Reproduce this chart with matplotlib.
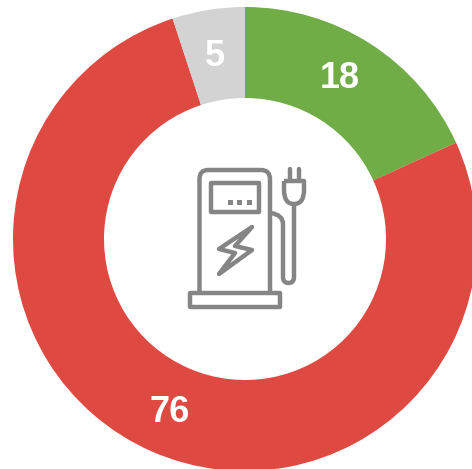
import matplotlib
matplotlib.use('Agg')
import matplotlib.pyplot as plt
from matplotlib.patches import Polygon, Rectangle, PathPatch
from matplotlib.path import Path

plt.rcParams['font.family'] = ['Liberation Sans', 'DejaVu Sans']

W, H = 472, 469  # size in pixels
categories = ['green', 'red', 'grey']
values = [18, 76, 5]
labels = ['18', '76', '5']
colors = ['#70AD47', '#DE4941', '#D3D3D3']

fig = plt.figure(figsize=(W / 100, H / 100), dpi=100)
ax = fig.add_axes([0, 0, 1, 1])

# donut, clockwise from the top, runs off the right and bottom edges
wedges, _ = ax.pie(values, colors=colors, startangle=90, counterclock=False,
                   center=(245, H - 239), radius=232, frame=True,
                   wedgeprops={'width': 91, 'linewidth': 0})
ax.set_xlim(0, W)
ax.set_ylim(0, H)
ax.set_aspect('equal')
ax.axis('off')

# second axes in image pixels for labels and the icon
top = fig.add_axes([0, 0, 1, 1])
top.set_xlim(0, W)
top.set_ylim(H, 0)
top.axis('off')
top.patch.set_alpha(0)

for txt, (x, y) in zip(labels, [(340, 79), (170, 413), (215, 57)]):
    top.text(x, y, txt, color='white', fontsize=26, fontweight='bold',
             ha='center', va='center')

icon = '#858585'
lw = 3.2
line = dict(color=icon, lw=lw, solid_capstyle='round', solid_joinstyle='round')

M, L, C = Path.MOVETO, Path.LINETO, Path.CURVE3

# pump body, open at the bottom
body = Path([(199.5, 292), (199.5, 179), (199.5, 170), (208, 170), (261, 170),
             (270, 170), (270, 179), (270, 292)],
            [M, L, C, C, L, C, C, L])
top.add_patch(PathPatch(body, fc='none', ec=icon, lw=lw))

# screen and dots
top.add_patch(Rectangle((211, 183.5), 48, 29, fc='none', ec=icon, lw=lw, joinstyle='round'))
for x in [230, 239.5, 249]:
    top.add_patch(Rectangle((x - 2.5, 200), 5, 5, fc=icon, ec='none'))

# bolt
top.add_patch(Polygon([(252, 227), (219, 249), (235, 253), (219, 274),
                       (252, 250), (235, 246)],
                      closed=True, fc='none', ec=icon, lw=lw, joinstyle='round'))

# base
top.add_patch(Rectangle((190, 293), 90, 14, fc='none', ec=icon, lw=lw, joinstyle='round'))

# plug prongs
top.plot([289.5, 289.5], [169, 180], **line)
top.plot([298.5, 298.5], [169, 180], **line)

# plug head
head = Path([(284, 181), (304, 181), (304, 190), (304, 204), (294, 204),
             (284, 204), (284, 190), (284, 181)],
            [M, L, L, C, C, C, C, L])
top.add_patch(PathPatch(head, fc='none', ec=icon, lw=lw, joinstyle='round'))

# cord
cord = Path([(294, 205), (294, 277), (294, 283), (288.5, 283), (283, 283), (283, 277),
             (283, 224), (283, 215), (271, 213)],
            [M, L, C, C, C, C, L, C, C])
top.add_patch(PathPatch(cord, fc='none', ec=icon, lw=lw, capstyle='round'))

fig.savefig('out.png', dpi=100)
